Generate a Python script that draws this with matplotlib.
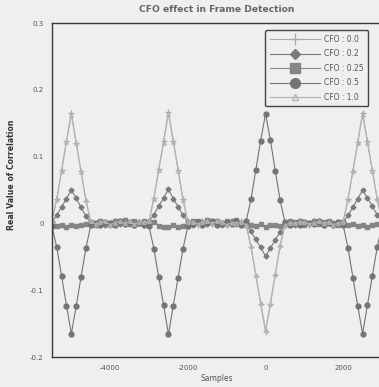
import numpy as np
import matplotlib
matplotlib.use('Agg')
import matplotlib.pyplot as plt

# --- data ---
samples = np.arange(-5500, 3001, 125)   # 69 sample positions

cfo_00 = [0.004, 0.037, 0.080, 0.124, 0.166, 0.121, 0.078, 0.034, 0.002,
          -0.002, 0.003, 0.001, -0.003, 0.002, 0.004, -0.001, 0.002, -0.002, 0.003, 0.001,
          0.004, 0.038, 0.081, 0.123, 0.167, 0.124, 0.080, 0.036, 0.003,
          0.001, -0.002, 0.003, 0.002, -0.001, 0.004, 0.001, -0.003, 0.002, 0.000, 0.003,
          -0.003, -0.035, -0.078, -0.120, -0.162, -0.121, -0.077, -0.034, -0.002,
          0.002, -0.001, 0.003, 0.001, -0.002, 0.002, 0.004, -0.001, 0.001, -0.003, 0.002,
          0.003, 0.037, 0.079, 0.122, 0.166, 0.123, 0.080, 0.037, 0.004]

cfo_02 = [0.002, 0.012, 0.025, 0.037, 0.050, 0.038, 0.024, 0.011, 0.001,
          -0.001, 0.002, -0.002, 0.001, 0.003, -0.001, 0.002, 0.000, -0.002, 0.001, 0.002,
          0.003, 0.013, 0.026, 0.038, 0.051, 0.037, 0.025, 0.012, 0.002,
          -0.002, 0.001, 0.002, -0.001, 0.000, 0.002, -0.002, 0.001, 0.003, -0.001, 0.000,
          -0.002, -0.012, -0.024, -0.036, -0.049, -0.037, -0.025, -0.013, -0.002,
          0.001, -0.002, 0.002, 0.000, -0.001, 0.003, 0.001, -0.002, 0.002, 0.000, 0.001,
          0.002, 0.012, 0.024, 0.037, 0.050, 0.038, 0.026, 0.013, 0.002]

cfo_025 = [-0.002, -0.004, -0.003, -0.005, -0.002, -0.004, -0.003, -0.001, 0.002,
           -0.003, 0.003, 0.001, -0.002, 0.004, 0.002, 0.005, -0.001, 0.003, 0.001, 0.004,
           -0.002, 0.002, -0.004, -0.006, -0.005, -0.003, -0.006, -0.004, -0.002,
           0.003, 0.004, 0.001, 0.005, 0.002, 0.004, -0.001, 0.003, 0.002, 0.005, 0.001,
           -0.003, -0.002, -0.004, -0.001, -0.005, -0.003, -0.002, -0.004, 0.001,
           0.003, 0.002, 0.004, -0.002, 0.001, 0.003, -0.001, 0.002, 0.004, 0.001, -0.002,
           0.002, -0.003, -0.001, -0.004, -0.002, -0.005, -0.003, -0.001, 0.001]

cfo_05 = [-0.004, -0.036, -0.079, -0.123, -0.165, -0.124, -0.080, -0.037, -0.003,
          0.001, -0.003, 0.002, 0.000, -0.002, 0.003, -0.001, 0.002, -0.003, 0.001, -0.002,
          -0.004, -0.038, -0.080, -0.122, -0.166, -0.123, -0.081, -0.038, -0.004,
          -0.001, 0.002, -0.003, 0.001, 0.003, -0.002, 0.000, 0.002, -0.001, 0.003, -0.002,
          0.003, 0.036, 0.080, 0.124, 0.164, 0.125, 0.079, 0.035, 0.002,
          -0.002, 0.001, -0.003, 0.002, 0.000, -0.001, 0.003, -0.002, 0.001, -0.003, 0.002,
          -0.003, -0.037, -0.081, -0.124, -0.165, -0.122, -0.079, -0.036, -0.003]

cfo_10 = [0.003, 0.036, 0.079, 0.122, 0.163, 0.120, 0.077, 0.035, 0.003,
          -0.001, 0.002, 0.003, -0.002, 0.001, 0.003, 0.000, 0.003, -0.001, 0.002, 0.002,
          0.003, 0.037, 0.080, 0.121, 0.164, 0.122, 0.079, 0.035, 0.002,
          0.002, -0.001, 0.002, 0.003, 0.000, 0.003, 0.002, -0.002, 0.001, 0.001, 0.002,
          -0.002, -0.034, -0.077, -0.119, -0.160, -0.120, -0.076, -0.033, -0.003,
          0.001, 0.000, 0.002, 0.002, -0.001, 0.001, 0.003, 0.000, 0.002, -0.002, 0.001,
          0.002, 0.036, 0.078, 0.121, 0.163, 0.121, 0.079, 0.036, 0.003]

labels = ['CFO : 0.0', 'CFO : 0.2', 'CFO : 0.25', 'CFO : 0.5', 'CFO : 1.0']
xticks = [-4000, -2000, 0, 2000]
yticks = [-0.2, -0.1, 0, 0.1, 0.2, 0.3]
yticklabels = ['-0.2', '-0.1', '0', '0.1', '0.2', '0.3']

bg = '#efefef'
fig = plt.figure(figsize=(3.79, 3.87), dpi=100, facecolor=bg)
ax = fig.add_axes([0.137, 0.0775, 0.871, 0.863], facecolor=bg)

ax.plot(samples, cfo_00, color='#a8a8a8', lw=0.8, marker='+', ms=4, mew=0.9, label=labels[0])
ax.plot(samples, cfo_02, color='#7a7a7a', lw=0.8, marker='D', ms=2.5, label=labels[1])
ax.plot(samples, cfo_025, color='#858585', lw=0.8, marker='s', ms=3.5, label=labels[2])
ax.plot(samples, cfo_05, color='#747474', lw=0.8, marker='o', ms=3.5, label=labels[3])
ax.plot(samples, cfo_10, color='#b4b4b4', lw=0.8, marker='^', ms=2.5, mfc='none', label=labels[4])

ax.set_xlim(-5500, 3000)
ax.set_ylim(-0.2, 0.3)
ax.set_xticks(xticks)
ax.set_xticklabels([str(t) for t in xticks])
ax.set_yticks(yticks)
ax.set_yticklabels(yticklabels)
ax.tick_params(length=0, labelsize=5, colors='#555555', pad=6)

for s in ['left', 'bottom', 'top']:
    ax.spines[s].set_color('#3a3a3a')
    ax.spines[s].set_linewidth(1.0)
ax.spines['right'].set_visible(False)

ax.set_title('CFO effect in Frame Detection', fontsize=6.6, fontweight='bold', color='#666666', pad=8)
ax.set_xlabel('Samples', fontsize=5.5, color='#555555', labelpad=2)
ax.set_ylabel('Real Value of Correlation', fontsize=5.6, fontweight='bold', color='#333333')
ax.yaxis.set_label_coords(-0.11, 0.545)

leg = ax.legend(loc='upper left', bbox_to_anchor=(0.635, 0.99), fontsize=5.5, handlelength=6.5,
                fancybox=True, framealpha=1, facecolor=bg, edgecolor='#444444',
                labelspacing=0.72, borderpad=0.6, handletextpad=0.6, markerscale=2.0)
leg.get_frame().set_linewidth(1.0)
for t in leg.get_texts():
    t.set_color('#555555')

fig.savefig('out.png', dpi=100, facecolor=bg)
